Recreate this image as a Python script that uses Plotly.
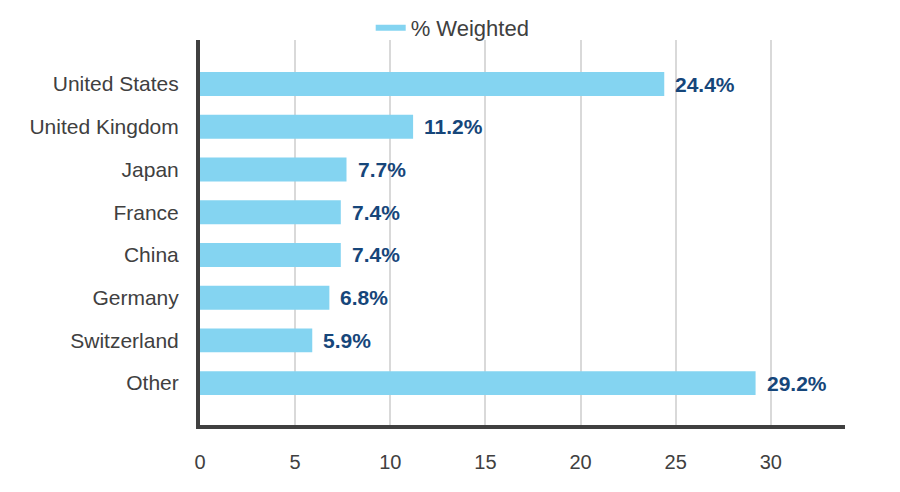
import plotly.graph_objects as go

countries = ["United States", "United Kingdom", "Japan", "France", "China", "Germany", "Switzerland", "Other"]
weights = [24.4, 11.2, 7.7, 7.4, 7.4, 6.8, 5.9, 29.2]
labels = ["24.4%", "11.2%", "7.7%", "7.4%", "7.4%", "6.8%", "5.9%", "29.2%"]
series_name = "% Weighted"
x_ticks = [0, 5, 10, 15, 20, 25, 30]

BAR = "#84d4f1"
AX = "#404040"
LBL = "#16467a"
FONT = "Liberation Sans, Arial, sans-serif"

fig = go.Figure()
fig.add_trace(go.Bar(
    y=countries, x=weights, orientation="h", width=0.56,
    marker=dict(color=BAR, line=dict(width=0)),
    showlegend=False, hoverinfo="skip",
))
fig.add_trace(go.Scatter(
    x=[None], y=[None], mode="lines", name=series_name,
    line=dict(color=BAR, width=6), showlegend=True,
))
for c, v, t in zip(countries, weights, labels):
    fig.add_annotation(x=v, y=c, text="<b>%s</b>" % t, showarrow=False,
                       xanchor="left", xshift=9, yshift=0,
                       font=dict(family=FONT, size=21, color=LBL))

fig.update_layout(
    width=900, height=492,
    margin=dict(l=200, r=55, t=40, b=67, autoexpand=False),
    plot_bgcolor="white", paper_bgcolor="white",
    font=dict(family=FONT, size=21, color=AX),
    legend=dict(orientation="h", xref="container", yref="container",
                x=0.503, xanchor="center", y=1 - 28 / 492, yanchor="middle",
                font=dict(size=22, color=AX), itemwidth=30, bgcolor="rgba(0,0,0,0)"),
)
fig.update_xaxes(
    range=[0, 33.9], tickvals=x_ticks, showgrid=True, gridcolor="#d9d9d9", gridwidth=2,
    zeroline=False, showline=True, linecolor=AX, linewidth=4, automargin=False,
    ticks="", ticklabelstandoff=16, tickfont=dict(size=20, color=AX),
)
fig.update_yaxes(
    type="category", range=[7.98, -1.03], showgrid=False, zeroline=False, automargin=False,
    showline=True, linecolor=AX, linewidth=4, ticks="", ticklabelstandoff=13,
    tickfont=dict(size=21, color=AX),
)

fig.write_html("out.html", config={"displayModeBar": False},
               post_script="document.body.style.margin='0';document.body.style.padding='0';")
